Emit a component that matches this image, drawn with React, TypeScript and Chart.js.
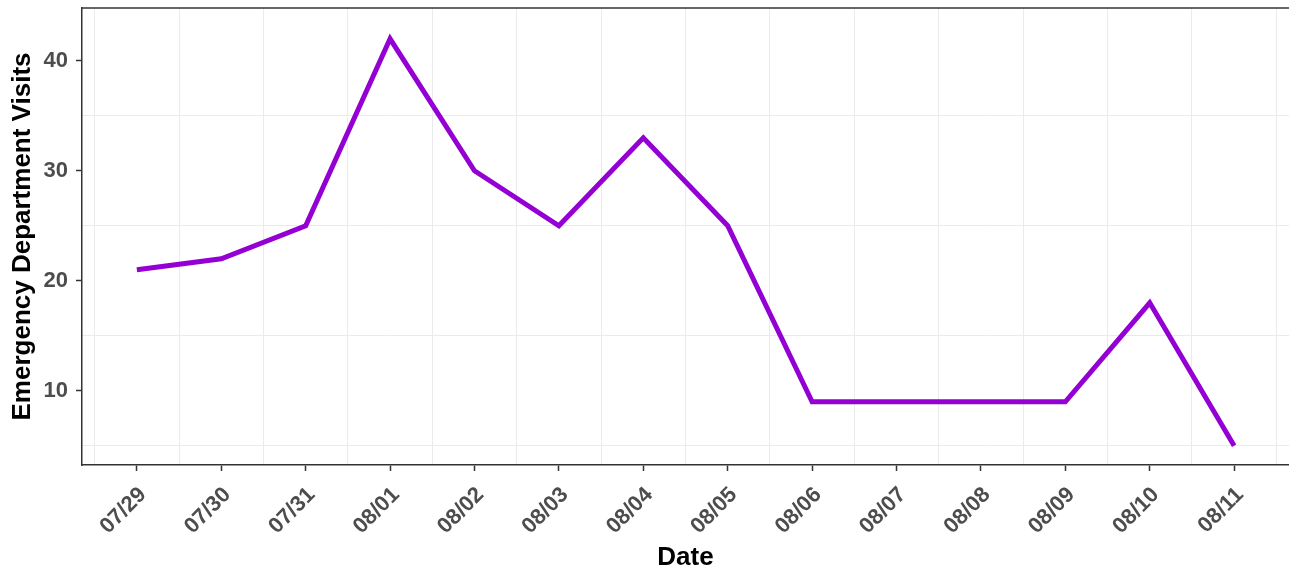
import React, { useEffect, useRef } from "react";
import { Chart, registerables } from "chart.js";

Chart.register(...registerables);

const categories = ["07/29", "07/30", "07/31", "08/01", "08/02", "08/03", "08/04", "08/05", "08/06", "08/07", "08/08", "08/09", "08/10", "08/11"];
const visits = [21, 22, 25, 42, 30, 25, 33, 25, 9, 9, 9, 9, 18, 5];
const yTickValues = [5, 10, 15, 20, 25, 30, 35, 40];
const yLabelValues = [10, 20, 30, 40];

const FONT = "'Liberation Sans', Arial, Helvetica, sans-serif";

export default function App() {
  const ref = useRef<HTMLCanvasElement | null>(null);

  useEffect(() => {
    if (!ref.current) return;
    const points = categories.map((c, i) => ({ x: i, y: visits[i] }));
    const xTicks: number[] = [];
    for (let i = -1; i < categories.length; i++) xTicks.push(i + 0.5);
    for (let i = 0; i < categories.length; i++) xTicks.push(i);
    xTicks.sort((a, b) => a - b);

    const borderPlugin = {
      id: "topBorder",
      afterDraw(chart: any) {
        const { ctx, chartArea } = chart;
        ctx.save();
        ctx.strokeStyle = "#333333";
        ctx.lineWidth = 1.5;
        ctx.beginPath();
        ctx.moveTo(chartArea.left, chartArea.top);
        ctx.lineTo(chartArea.right, chartArea.top);
        ctx.stroke();
        ctx.restore();
      },
    };

    const chart = new Chart(ref.current, {
      type: "line",
      data: {
        datasets: [
          {
            label: "Emergency Department Visits",
            data: points,
            borderColor: "#9400D3",
            backgroundColor: "#9400D3",
            borderWidth: 5,
            pointRadius: 0,
            tension: 0,
            fill: false,
          },
        ],
      },
      options: {
        animation: false,
        responsive: true,
        maintainAspectRatio: false,
        layout: { padding: { top: 8, left: 0, right: 0, bottom: 0 } },
        plugins: { legend: { display: false }, tooltip: { enabled: false } },
        scales: {
          x: {
            type: "linear",
            min: -0.65,
            max: 13.65,
            afterBuildTicks: (scale: any) => {
              scale.ticks = xTicks.map((v) => ({ value: v }));
            },
            afterFit: (scale: any) => {
              scale.height = 101;
              scale.paddingLeft = 0;
              scale.paddingRight = 0;
            },
            ticks: {
              autoSkip: false,
              minRotation: 45,
              maxRotation: 45,
              padding: 11,
              labelOffset: 6,
              color: "#4d4d4d",
              font: { family: FONT, size: 22, weight: "bold" },
              callback: (v: any) => {
                const n = Number(v);
                return Number.isInteger(n) && categories[n] !== undefined ? categories[n] : "";
              },
            },
            grid: {
              drawTicks: true,
              tickLength: 6,
              lineWidth: 1,
              tickWidth: 1.5,
              color: (ctx: any) => (ctx.tick && !Number.isInteger(ctx.tick.value) ? "#ebebeb" : "rgba(0,0,0,0)"),
              tickColor: (ctx: any) => (ctx.tick && Number.isInteger(ctx.tick.value) ? "#333333" : "rgba(0,0,0,0)"),
            },
            border: { display: true, color: "#333333", width: 1.5 },
            title: {
              display: true,
              text: "Date",
              color: "#000000",
              font: { family: FONT, size: 26, weight: "bold", lineHeight: 1 },
              padding: { top: 0, bottom: -5 },
            },
          },
          y: {
            type: "linear",
            min: 3.25,
            max: 44.8,
            afterBuildTicks: (scale: any) => {
              scale.ticks = yTickValues.map((v) => ({ value: v }));
            },
            afterFit: (scale: any) => {
              scale.width = 82;
              scale.paddingTop = 0;
              scale.paddingBottom = 0;
            },
            ticks: {
              autoSkip: false,
              padding: 8,
              color: "#4d4d4d",
              font: { family: FONT, size: 22, weight: "bold" },
              callback: (v: any) => (yLabelValues.includes(Number(v)) ? String(v) : ""),
            },
            grid: {
              drawTicks: true,
              tickLength: 6,
              lineWidth: 1,
              tickWidth: 1.5,
              color: (ctx: any) => (ctx.tick && !yLabelValues.includes(ctx.tick.value) ? "#ebebeb" : "rgba(0,0,0,0)"),
              tickColor: (ctx: any) => (ctx.tick && yLabelValues.includes(ctx.tick.value) ? "#333333" : "rgba(0,0,0,0)"),
            },
            border: { display: true, color: "#333333", width: 1.5 },
            title: {
              display: true,
              text: "Emergency Department Visits",
              color: "#000000",
              font: { family: FONT, size: 26, weight: "bold", lineHeight: 1 },
              padding: { top: 10, bottom: 0 },
            },
          },
        },
      },
      plugins: [borderPlugin],
    } as any);

    return () => chart.destroy();
  }, []);

  return (
    <div style={{ position: "absolute", left: 0, top: 0, width: 1289, height: 566, background: "#ffffff" }}>
      <canvas ref={ref} />
    </div>
  );
}
